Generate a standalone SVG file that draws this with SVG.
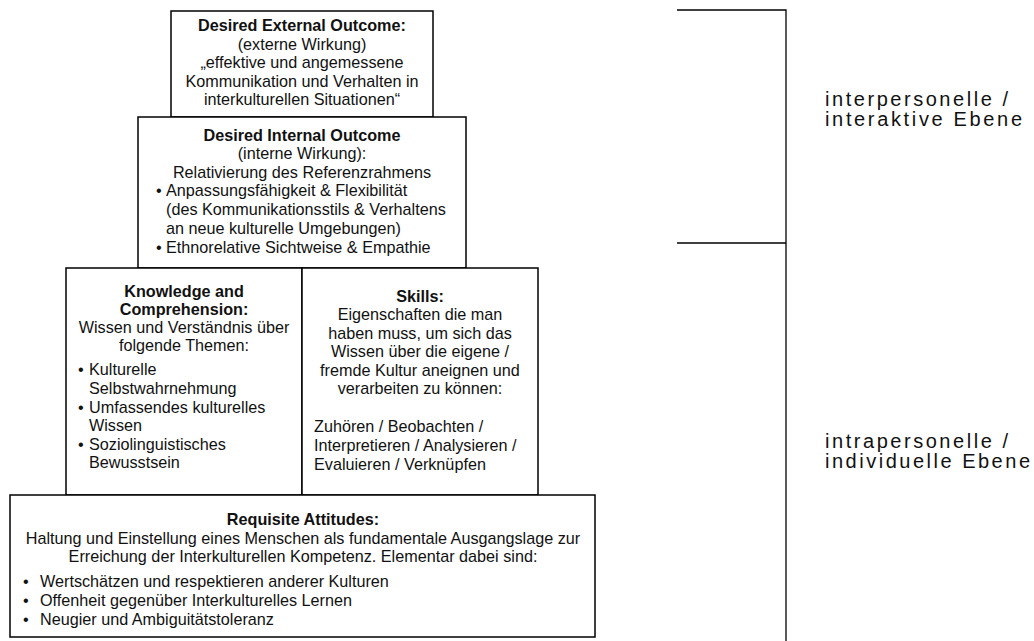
<svg xmlns="http://www.w3.org/2000/svg" width="1034" height="641" viewBox="0 0 1034 641">
<style>
.box{fill:#fff;stroke:#000;stroke-width:1.5}
.t{font-family:"Liberation Sans",Arial,sans-serif;font-size:16.2px;fill:#111}
.c{text-anchor:middle}
.b{font-weight:bold}
.lbl{font-family:"Liberation Sans",Arial,sans-serif;font-size:20px;fill:#111}
.ln{stroke:#000;stroke-width:1.3;fill:none}
</style>
<rect width="1034" height="641" fill="#fff"/>
<g id="external">
<rect class="box" x="171" y="11" width="262" height="106"/>
<text class="t c b" x="302" y="31">Desired External Outcome:</text>
<text class="t c" x="302" y="50">(externe Wirkung)</text>
<text class="t c" x="302" y="68">„effektive und angemessene</text>
<text class="t c" x="302" y="87">Kommunikation und Verhalten in</text>
<text class="t c" x="302" y="105">interkulturellen Situationen“</text>
</g>
<g id="internal">
<rect class="box" x="138" y="117" width="328" height="151"/>
<text class="t c b" x="302" y="141">Desired Internal Outcome</text>
<text class="t c" x="302" y="159">(interne Wirkung):</text>
<text class="t c" x="302" y="178">Relativierung des Referenzrahmens</text>
<text class="t" x="156" y="196">•</text>
<text class="t" x="166" y="196">Anpassungsfähigkeit &amp; Flexibilität</text>
<text class="t" x="166" y="215">(des Kommunikationsstils &amp; Verhaltens</text>
<text class="t" x="166" y="234">an neue kulturelle Umgebungen)</text>
<text class="t" x="156" y="253">•</text>
<text class="t" x="166" y="253">Ethnorelative Sichtweise &amp; Empathie</text>
</g>
<g id="knowledge">
<rect class="box" x="66" y="268" width="236" height="227"/>
<text class="t c b" x="184" y="297">Knowledge and</text>
<text class="t c b" x="184" y="315">Comprehension:</text>
<text class="t c" x="184" y="333">Wissen und Verständnis über</text>
<text class="t c" x="184" y="351">folgende Themen:</text>
<text class="t" x="78" y="375">•</text>
<text class="t" x="89" y="375">Kulturelle</text>
<text class="t" x="89" y="394">Selbstwahrnehmung</text>
<text class="t" x="78" y="413">•</text>
<text class="t" x="89" y="413">Umfassendes kulturelles</text>
<text class="t" x="89" y="431">Wissen</text>
<text class="t" x="78" y="450">•</text>
<text class="t" x="89" y="450">Soziolinguistisches</text>
<text class="t" x="89" y="468">Bewusstsein</text>
</g>
<g id="skills">
<rect class="box" x="302" y="268" width="236" height="227"/>
<text class="t c b" x="420" y="302">Skills:</text>
<text class="t c" x="420" y="320">Eigenschaften die man</text>
<text class="t c" x="420" y="339">haben muss, um sich das</text>
<text class="t c" x="420" y="357">Wissen über die eigene /</text>
<text class="t c" x="420" y="376">fremde Kultur aneignen und</text>
<text class="t c" x="420" y="394">verarbeiten zu können:</text>
<text class="t" x="314" y="432">Zuhören / Beobachten /</text>
<text class="t" x="314" y="451">Interpretieren / Analysieren /</text>
<text class="t" x="314" y="470">Evaluieren / Verknüpfen</text>
</g>
<g id="attitudes">
<rect class="box" x="10" y="495" width="585" height="142"/>
<text class="t c b" x="303" y="525">Requisite Attitudes:</text>
<text class="t c" x="303" y="544">Haltung und Einstellung eines Menschen als fundamentale Ausgangslage zur</text>
<text class="t c" x="303" y="562">Erreichung der Interkulturellen Kompetenz. Elementar dabei sind:</text>
<text class="t" x="23" y="587">•</text>
<text class="t" x="40" y="587">Wertschätzen und respektieren anderer Kulturen</text>
<text class="t" x="23" y="606">•</text>
<text class="t" x="40" y="606">Offenheit gegenüber Interkulturelles Lernen</text>
<text class="t" x="23" y="625">•</text>
<text class="t" x="40" y="625">Neugier und Ambiguitätstoleranz</text>
</g>
<g id="connectors">
<polyline class="ln" points="677,10 786,10 786,641"/>
<line class="ln" x1="677" y1="243" x2="786" y2="243"/>
</g>
<g id="levels">
<text class="lbl" x="825" y="106" textLength="183" lengthAdjust="spacing">interpersonelle /</text>
<text class="lbl" x="825" y="126" textLength="197" lengthAdjust="spacing">interaktive Ebene</text>
<text class="lbl" x="825" y="448" textLength="183" lengthAdjust="spacing">intrapersonelle /</text>
<text class="lbl" x="825" y="468" textLength="205" lengthAdjust="spacing">individuelle Ebene</text>
</g>
</svg>
